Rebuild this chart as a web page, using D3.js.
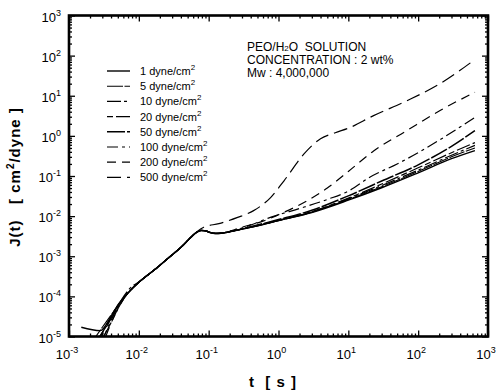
<!DOCTYPE html>
<html>
<head>
<meta charset="utf-8">
<title></title>
<script src="https://d3js.org/d3.v7.min.js"></script>
<style>
body { margin: 0; background: #fff; }
</style>
</head>
<body>
<div class="main_div"></div>
<script>

// Stress levels (legend)
var stresses = ["1", "5", "10", "20", "50", "100", "200", "500"];

// Shared rising part of all creep curves, [t (s), J (cm2/dyne)]
var riseCommon = [[0.0068, 1.15e-4], [0.0106, 2.45e-4], [0.0173, 4.8e-4], [0.027, 9.3e-4], [0.042, 1.8e-3], [0.056, 3.0e-3]];

// Peak and small dip seen on the low-stress curves
var peakDip = [[0.068, 4.0e-3], [0.078, 4.4e-3], [0.09, 4.3e-3], [0.105, 3.9e-3], [0.125, 3.7e-3], [0.15, 3.75e-3], [0.2, 4.1e-3]];

// Start of each curve (near J = 1e-5)
var head1   = [[0.0015, 1.7e-5], [0.0028, 1.4e-5], [0.0036, 2.3e-5], [0.0044, 4.2e-5], [0.0053, 7.0e-5]];
var head5   = [[0.0021, 7e-6], [0.0030, 1.7e-5], [0.0040, 3.4e-5], [0.0052, 6.5e-5]];
var head10  = [[0.0024, 7e-6], [0.0034, 1.8e-5], [0.0046, 4.2e-5], [0.0058, 8.8e-5], [0.0075, 1.6e-4]];
var head20  = [[0.0028, 7e-6], [0.0040, 2.2e-5], [0.0052, 5.5e-5]];
var head50  = [[0.0025, 7e-6], [0.0036, 2.2e-5], [0.0048, 5.3e-5]];
var head100 = [[0.0030, 8e-6], [0.0042, 3.0e-5], [0.0054, 6.6e-5]];
var head200 = [[0.0027, 8e-6], [0.0039, 2.6e-5], [0.0051, 6.0e-5]];
var head500 = [[0.0032, 8e-6], [0.0045, 3.4e-5], [0.0058, 7.6e-5]];

// Long-time parts
var tail1   = [[0.5, 5.7e-3], [1, 7.7e-3], [3, 0.0123], [10, 0.025], [30, 0.051], [100, 0.12], [300, 0.27], [650, 0.43]];
var tail5   = [[0.5, 5.7e-3], [1, 7.7e-3], [3, 0.0125], [10, 0.026], [30, 0.054], [100, 0.13], [300, 0.30], [650, 0.5]];
var tail10  = [[0.5, 5.8e-3], [1, 7.8e-3], [3, 0.0127], [10, 0.027], [30, 0.058], [100, 0.14], [300, 0.33], [650, 0.58]];
var tail20  = [[0.5, 5.9e-3], [1, 7.9e-3], [3, 0.013], [10, 0.028], [30, 0.063], [100, 0.16], [300, 0.38], [650, 0.68]];
var tail50  = [[0.5, 6.0e-3], [1, 8.2e-3], [3, 0.014], [10, 0.032], [30, 0.075], [100, 0.19], [300, 0.55], [650, 1.35]];
var tail100 = [[0.4, 6.0e-3], [0.7, 8.8e-3], [1, 0.0108], [2, 0.0155], [5, 0.026], [10, 0.042], [20, 0.092], [50, 0.2], [100, 0.38], [200, 0.78], [650, 2.9]];
var tail200 = [[0.3, 5.3e-3], [0.6, 7.5e-3], [1.2, 0.0125], [2.6, 0.0244], [5, 0.05], [10, 0.13], [23, 0.42], [69, 1.36], [206, 4.3], [650, 12.2]];
var tail500 = [[0.085, 5.3e-3], [0.14, 6.5e-3], [0.26, 9.3e-3], [0.44, 0.0137], [0.77, 0.029], [1.2, 0.076], [2.3, 0.35], [4, 0.85], [6.5, 1.2], [10, 1.55], [23, 3.2], [69, 7.5], [206, 20], [650, 80]];

// Axis tick labels (exponents of ten)
var xExponents = [-3, -2, -1, 0, 1, 2, 3];
var yExponents = [-5, -4, -3, -2, -1, 0, 1, 2, 3];

var series = [
	head1.concat(riseCommon, peakDip, tail1),
	head5.concat(riseCommon, peakDip, tail5),
	head10.concat(riseCommon.slice(1), peakDip, tail10),
	head20.concat(riseCommon, peakDip, tail20),
	head50.concat(riseCommon, peakDip, tail50),
	head100.concat(riseCommon, peakDip, tail100),
	head200.concat(riseCommon, peakDip.slice(0, 6), tail200),
	head500.concat(riseCommon, [[0.068, 4.1e-3]], tail500)
];
var dashes = [null, "16,1.5", "14,3,3,3", "6,3,14,3", "18,2", "11,4,3,4", "9,6", "14,6"];
var widths = [1.4, 1.1, 1.2, 1.2, 1.5, 1.2, 1.2, 1.2];

// Svg
var width = 501, height = 391;
var plot = {left: 69, right: 488, top: 15.5, bottom: 336.5};
var svg = d3.select(".main_div").append("svg")
	.attr("width", width).attr("height", height)
	.style("font-family", "Arial, 'Liberation Sans', sans-serif");

var xScale = d3.scaleLog().domain([1e-3, 1e3]).range([plot.left, plot.right]);
var yScale = d3.scaleLog().domain([1e-5, 1e3]).range([plot.bottom, plot.top]);

svg.append("clipPath").attr("id", "clip").append("rect")
	.attr("x", plot.left).attr("y", plot.top)
	.attr("width", plot.right - plot.left).attr("height", plot.bottom - plot.top);

// Minor/major ticks
function minorTicks(lo, hi) {
	var out = [];
	for (var e = lo; e < hi; e++) for (var m = 2; m <= 9; m++) out.push(m * Math.pow(10, e));
	return out;
}
var xMinor = minorTicks(-3, 3), yMinor = minorTicks(-5, 3);
var xMajor = xExponents.map(function(e){ return Math.pow(10, e); });
var yMajor = yExponents.map(function(e){ return Math.pow(10, e); });

function addAxis(axisFn, scale, vals, size, tr) {
	var g = svg.append("g").attr("transform", tr)
		.call(axisFn(scale).tickValues(vals).tickSize(size).tickFormat(""));
	g.select(".domain").remove();
	g.selectAll("line").attr("stroke", "#000").attr("stroke-width", 1.3);
}
addAxis(d3.axisBottom, xScale, xMinor, -3, "translate(0," + plot.bottom + ")");
addAxis(d3.axisBottom, xScale, xMajor, -6, "translate(0," + plot.bottom + ")");
addAxis(d3.axisTop, xScale, xMinor, -3, "translate(0," + plot.top + ")");
addAxis(d3.axisTop, xScale, xMajor, -6, "translate(0," + plot.top + ")");
addAxis(d3.axisLeft, yScale, yMinor, -3, "translate(" + plot.left + ",0)");
addAxis(d3.axisLeft, yScale, yMajor, -6, "translate(" + plot.left + ",0)");
addAxis(d3.axisRight, yScale, yMinor, -3, "translate(" + plot.right + ",0)");
addAxis(d3.axisRight, yScale, yMajor, -6, "translate(" + plot.right + ",0)");

svg.append("rect")
	.attr("x", plot.left).attr("y", plot.top)
	.attr("width", plot.right - plot.left).attr("height", plot.bottom - plot.top)
	.attr("fill", "none").attr("stroke", "#000").attr("stroke-width", 2.6);

// Tick labels
var xl = svg.selectAll(".xl").data(xExponents).enter().append("text")
	.attr("x", function(e){ return xScale(Math.pow(10, e)) - 2; })
	.attr("y", 359).attr("text-anchor", "middle").attr("font-size", 13);
xl.append("tspan").text("10");
xl.append("tspan").attr("dy", -6).attr("font-size", 9).text(function(e){ return e; });

var yl = svg.selectAll(".yl").data(yExponents).enter().append("text")
	.attr("x", 61)
	.attr("y", function(e){ return yScale(Math.pow(10, e)) + 6; })
	.attr("text-anchor", "end").attr("font-size", 13);
yl.append("tspan").text("10");
yl.append("tspan").attr("dy", -6).attr("font-size", 9).text(function(e){ return e; });

// Axis titles
svg.append("text").attr("x", 273).attr("y", 387).attr("text-anchor", "middle")
	.attr("font-size", 15).attr("font-weight", "bold").attr("letter-spacing", 1)
	.style("white-space", "pre").text("t  [ s ]");

var yt = svg.append("text").attr("transform", "translate(20,177) rotate(-90)")
	.attr("text-anchor", "middle").attr("font-size", 15).attr("font-weight", "bold")
	.attr("letter-spacing", 1).style("white-space", "pre");
yt.append("tspan").text("J(t)   [ cm");
yt.append("tspan").attr("dy", -6).attr("font-size", 10).text("2");
yt.append("tspan").attr("dy", 6).text("/dyne ]");

// Curves
var line = d3.line()
	.x(function(d){ return xScale(d[0]); })
	.y(function(d){ return yScale(d[1]); })
	.curve(d3.curveMonotoneX);

svg.append("g").attr("clip-path", "url(#clip)").selectAll("path").data(series).enter().append("path")
	.attr("d", line)
	.attr("fill", "none").attr("stroke", "#000")
	.attr("stroke-width", function(d, i){ return widths[i]; })
	.attr("stroke-dasharray", function(d, i){ return dashes[i]; });

// Legend
var lg = svg.selectAll(".lg").data(stresses).enter().append("g")
	.attr("transform", function(d, i){ return "translate(0," + (71 + i * 15.2) + ")"; });
lg.append("line").attr("x1", 107).attr("x2", 130)
	.attr("stroke", "#000")
	.attr("stroke-width", function(d, i){ return widths[i]; })
	.attr("stroke-dasharray", function(d, i){ return dashes[i]; });
var lt = lg.append("text").attr("x", 140).attr("y", 4).attr("font-size", 11);
lt.append("tspan").text(function(d){ return d + " dyne/cm"; });
lt.append("tspan").attr("dy", -5).attr("font-size", 8).text("2");

// Annotation
var an = svg.append("g").attr("font-size", 12);
var a1 = an.append("text").attr("x", 247).attr("y", 51).style("white-space", "pre");
a1.append("tspan").text("PEO/H");
a1.append("tspan").attr("font-size", 8).text("2");
a1.append("tspan").text("O  SOLUTION");
an.append("text").attr("x", 247).attr("y", 64).text("CONCENTRATION : 2 wt%");
an.append("text").attr("x", 247).attr("y", 77).text("Mw : 4,000,000");

</script>
</body>
</html>
